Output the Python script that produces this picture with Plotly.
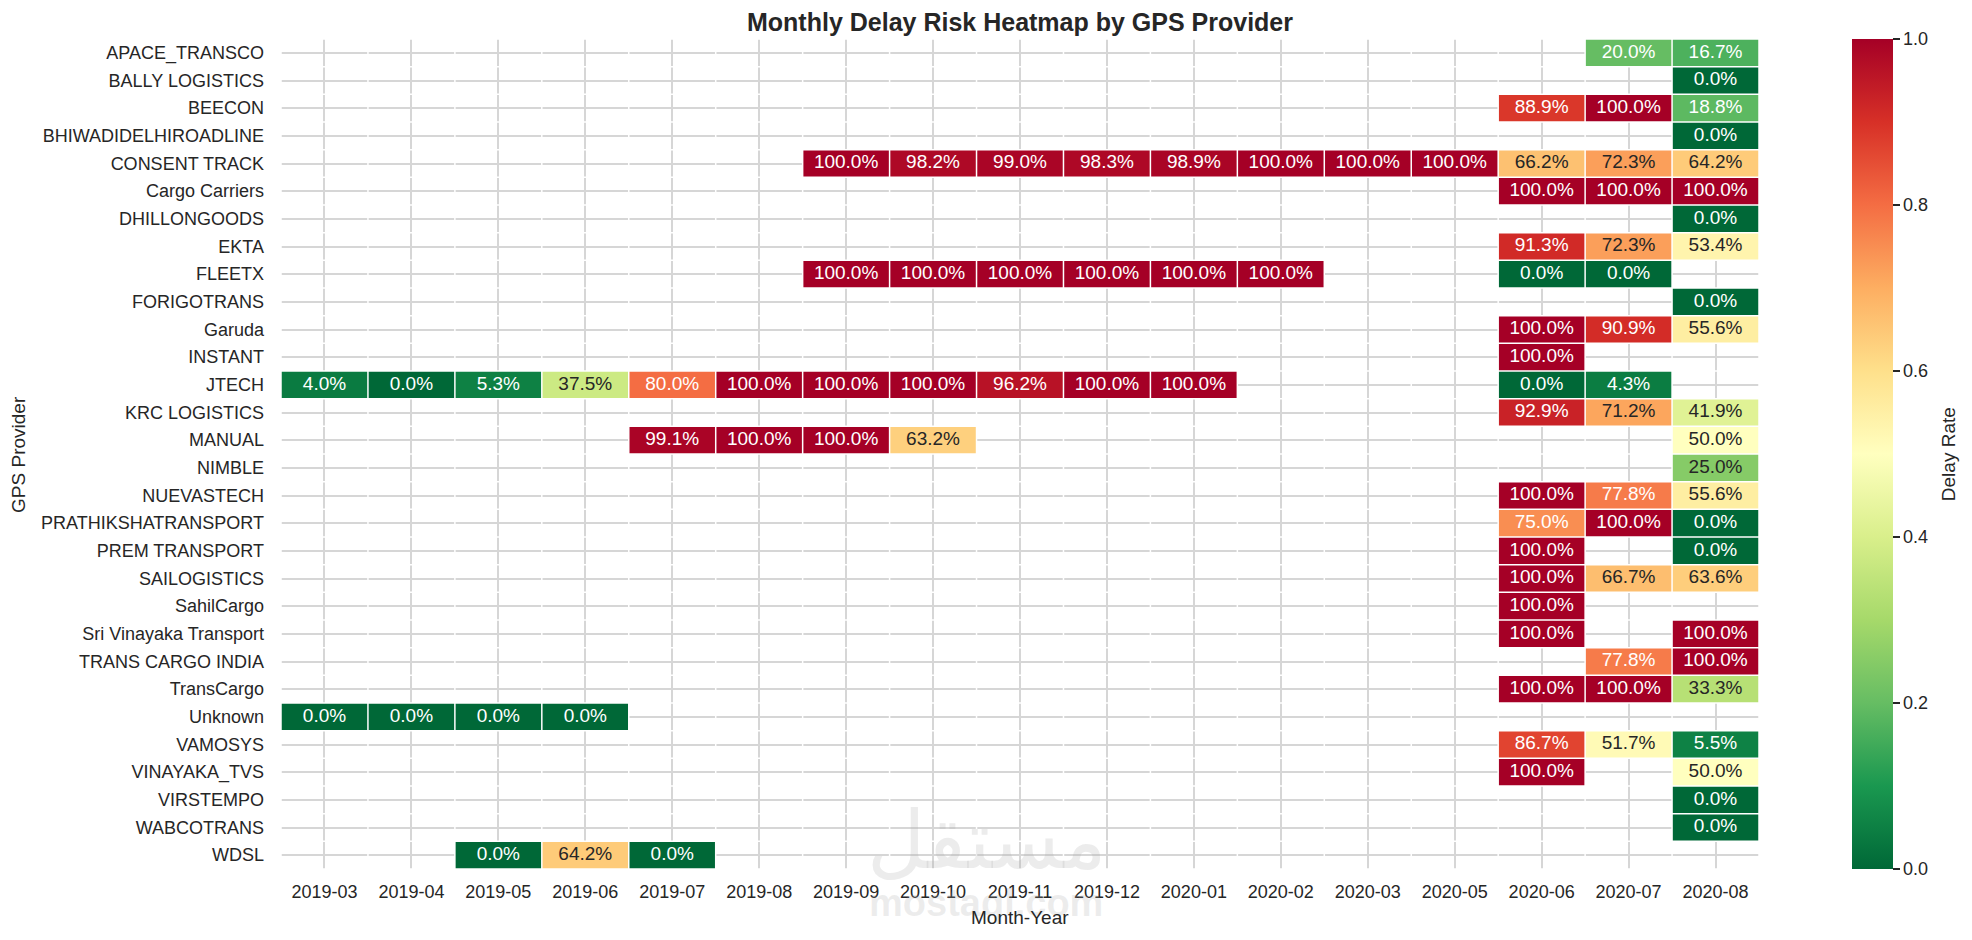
import plotly.graph_objects as go

# ------------------------------------------------------------
# Data (delay rate in %, None = no shipments that month)
# ------------------------------------------------------------
months = ["2019-03", "2019-04", "2019-05", "2019-06", "2019-07", "2019-08",
          "2019-09", "2019-10", "2019-11", "2019-12", "2020-01", "2020-02",
          "2020-03", "2020-05", "2020-06", "2020-07", "2020-08"]

providers = ["APACE_TRANSCO", "BALLY LOGISTICS", "BEECON", "BHIWADIDELHIROADLINE",
             "CONSENT TRACK", "Cargo Carriers", "DHILLONGOODS", "EKTA", "FLEETX",
             "FORIGOTRANS", "Garuda", "INSTANT", "JTECH", "KRC LOGISTICS", "MANUAL",
             "NIMBLE", "NUEVASTECH", "PRATHIKSHATRANSPORT", "PREM TRANSPORT",
             "SAILOGISTICS", "SahilCargo", "Sri Vinayaka Transport",
             "TRANS CARGO INDIA", "TransCargo", "Unknown", "VAMOSYS",
             "VINAYAKA_TVS", "VIRSTEMPO", "WABCOTRANS", "WDSL"]

N = None
delay_pct = [
    [N] * 15 + [20.0, 16.7],                                   # APACE_TRANSCO
    [N] * 16 + [0.0],                                          # BALLY LOGISTICS
    [N] * 14 + [88.9, 100.0, 18.8],                            # BEECON
    [N] * 16 + [0.0],                                          # BHIWADIDELHIROADLINE
    [N] * 6 + [100.0, 98.2, 99.0, 98.3, 98.9, 100.0, 100.0, 100.0,
               66.2, 72.3, 64.2],                              # CONSENT TRACK
    [N] * 14 + [100.0, 100.0, 100.0],                          # Cargo Carriers
    [N] * 16 + [0.0],                                          # DHILLONGOODS
    [N] * 14 + [91.3, 72.3, 53.4],                             # EKTA
    [N] * 6 + [100.0, 100.0, 100.0, 100.0, 100.0, 100.0,
               N, N, 0.0, 0.0, N],                             # FLEETX
    [N] * 16 + [0.0],                                          # FORIGOTRANS
    [N] * 14 + [100.0, 90.9, 55.6],                            # Garuda
    [N] * 14 + [100.0, N, N],                                  # INSTANT
    [4.0, 0.0, 5.3, 37.5, 80.0, 100.0, 100.0, 100.0, 96.2, 100.0, 100.0,
     N, N, N, 0.0, 4.3, N],                                    # JTECH
    [N] * 14 + [92.9, 71.2, 41.9],                             # KRC LOGISTICS
    [N] * 4 + [99.1, 100.0, 100.0, 63.2] + [N] * 8 + [50.0],   # MANUAL
    [N] * 16 + [25.0],                                         # NIMBLE
    [N] * 14 + [100.0, 77.8, 55.6],                            # NUEVASTECH
    [N] * 14 + [75.0, 100.0, 0.0],                             # PRATHIKSHATRANSPORT
    [N] * 14 + [100.0, N, 0.0],                                # PREM TRANSPORT
    [N] * 14 + [100.0, 66.7, 63.6],                            # SAILOGISTICS
    [N] * 14 + [100.0, N, N],                                  # SahilCargo
    [N] * 14 + [100.0, N, 100.0],                              # Sri Vinayaka Transport
    [N] * 15 + [77.8, 100.0],                                  # TRANS CARGO INDIA
    [N] * 14 + [100.0, 100.0, 33.3],                           # TransCargo
    [0.0, 0.0, 0.0, 0.0] + [N] * 13,                           # Unknown
    [N] * 14 + [86.7, 51.7, 5.5],                              # VAMOSYS
    [N] * 14 + [100.0, N, 50.0],                               # VINAYAKA_TVS
    [N] * 16 + [0.0],                                          # VIRSTEMPO
    [N] * 16 + [0.0],                                          # WABCOTRANS
    [N, N, 0.0, 64.2, 0.0] + [N] * 12,                         # WDSL
]

# ------------------------------------------------------------
# Colormap (RdYlGn reversed) + text contrast like seaborn
# ------------------------------------------------------------
rdylgn_r = ["#006837", "#1a9850", "#66bd63", "#a6d96a", "#d9ef8b", "#ffffbf",
            "#fee08b", "#fdae61", "#f46d43", "#d73027", "#a50026"]
colorscale = [[i / 10, c] for i, c in enumerate(rdylgn_r)]


def hex_rgb(h):
    return [int(h[i:i + 2], 16) / 255 for i in (1, 3, 5)]


def cell_rgb(v):
    pos = v * 10
    i = min(int(pos), 9)
    f = pos - i
    a, b = hex_rgb(rdylgn_r[i]), hex_rgb(rdylgn_r[i + 1])
    return [a[k] + (b[k] - a[k]) * f for k in range(3)]


def text_color(v):
    rgb = cell_rgb(v)
    lin = [c / 12.92 if c <= 0.03928 else ((c + 0.055) / 1.055) ** 2.4 for c in rgb]
    lum = 0.2126 * lin[0] + 0.7152 * lin[1] + 0.0722 * lin[2]
    return "#262626" if lum > 0.408 else "white"


z = [[None if v is None else v / 100 for v in row] for row in delay_pct]

tx, ty, tlab, tcol = [], [], [], []
for r, row in enumerate(delay_pct):
    for c, v in enumerate(row):
        if v is None:
            continue
        tx.append(c)
        ty.append(r)
        tlab.append(f"{v:.1f}%")
        tcol.append(text_color(v / 100))

FONT = "Liberation Sans, Arial, sans-serif"
DARK = "#262626"

fig = go.Figure()
fig.add_trace(go.Heatmap(
    x=list(range(len(months))),
    y=list(range(len(providers))),
    z=z,
    zmin=0, zmax=1,
    colorscale=colorscale,
    hoverongaps=False,
    colorbar=dict(
        x=1.063, xanchor="left", xpad=0,
        y=0.5, yanchor="middle", len=1, ypad=0,
        thickness=41, outlinewidth=0,
        tickmode="array", tickvals=[0, 0.2, 0.4, 0.6, 0.8, 1.0],
        ticktext=["0.0", "0.2", "0.4", "0.6", "0.8", "1.0"],
        ticks="outside", ticklen=7, tickwidth=1.5, tickcolor=DARK,
        tickfont=dict(size=18, color=DARK, family=FONT),
    ),
))

fig.add_trace(go.Scatter(
    x=tx, y=ty, text=tlab, mode="text",
    textfont=dict(size=19, color=tcol, family=FONT),
    hoverinfo="skip", showlegend=False,
))

# white cell borders (cut the grid like seaborn's linewidths)
shapes = []
for i in range(len(months) + 1):
    shapes.append(dict(type="line", layer="above", x0=i - 0.5, x1=i - 0.5,
                       y0=-0.5, y1=len(providers) - 0.5,
                       line=dict(color="white", width=1.5)))
for j in range(len(providers) + 1):
    shapes.append(dict(type="line", layer="above", y0=j - 0.5, y1=j - 0.5,
                       x0=-0.5, x1=len(months) - 0.5,
                       line=dict(color="white", width=1.5)))

WM = "rgba(170,170,170,0.22)"
annotations = [
    # faint watermark
    dict(text="مستقل", x=0.477, y=0.034, xref="paper", yref="paper",
         xanchor="center", yanchor="middle", showarrow=False,
         font=dict(size=80, color=WM, family="DejaVu Sans")),
    dict(text="<b>mostaql.com</b>", x=0.477, y=-0.041, xref="paper", yref="paper",
         xanchor="center", yanchor="middle", showarrow=False,
         font=dict(size=38, color=WM, family=FONT)),
    # axis titles
    dict(text="Month-Year", x=0.5, y=-0.059, xref="paper", yref="paper",
         xanchor="center", yanchor="middle", showarrow=False,
         font=dict(size=19, color=DARK, family=FONT)),
    dict(text="GPS Provider", x=-0.178, y=0.5, xref="paper", yref="paper",
         xanchor="center", yanchor="middle", textangle=-90, showarrow=False,
         font=dict(size=19, color=DARK, family=FONT)),
    dict(text="Delay Rate", x=1.128, y=0.5, xref="paper", yref="paper",
         xanchor="center", yanchor="middle", textangle=-90, showarrow=False,
         font=dict(size=19, color=DARK, family=FONT)),
]

# page body adds an 8px margin, so the figure is 8px smaller and shifted
fig.update_layout(
    width=1964, height=932,
    margin=dict(l=273, r=213, t=31, b=71),
    paper_bgcolor="white", plot_bgcolor="white",
    font=dict(family=FONT, color=DARK),
    title=dict(text="<b>Monthly Delay Risk Heatmap by GPS Provider</b>",
               x=0.5, xref="paper", xanchor="center",
               y=1 - 14 / 932, yref="container", yanchor="middle",
               font=dict(size=25, color=DARK, family=FONT)),
    shapes=shapes,
    annotations=annotations,
    showlegend=False,
)

fig.update_xaxes(
    range=[-0.5, len(months) - 0.5],
    tickmode="array", tickvals=list(range(len(months))), ticktext=months,
    tickfont=dict(size=18, color=DARK), ticklabelstandoff=10,
    showgrid=True, gridcolor="#d6d6d6", gridwidth=2,
    zeroline=False, showline=False, ticks="",
)
fig.update_yaxes(
    range=[len(providers) - 0.5, -0.5],
    tickmode="array", tickvals=list(range(len(providers))), ticktext=providers,
    tickfont=dict(size=18, color=DARK), ticklabelstandoff=16,
    showgrid=True, gridcolor="#d6d6d6", gridwidth=2,
    zeroline=False, showline=False, ticks="",
)

fig.write_html("out.html")
